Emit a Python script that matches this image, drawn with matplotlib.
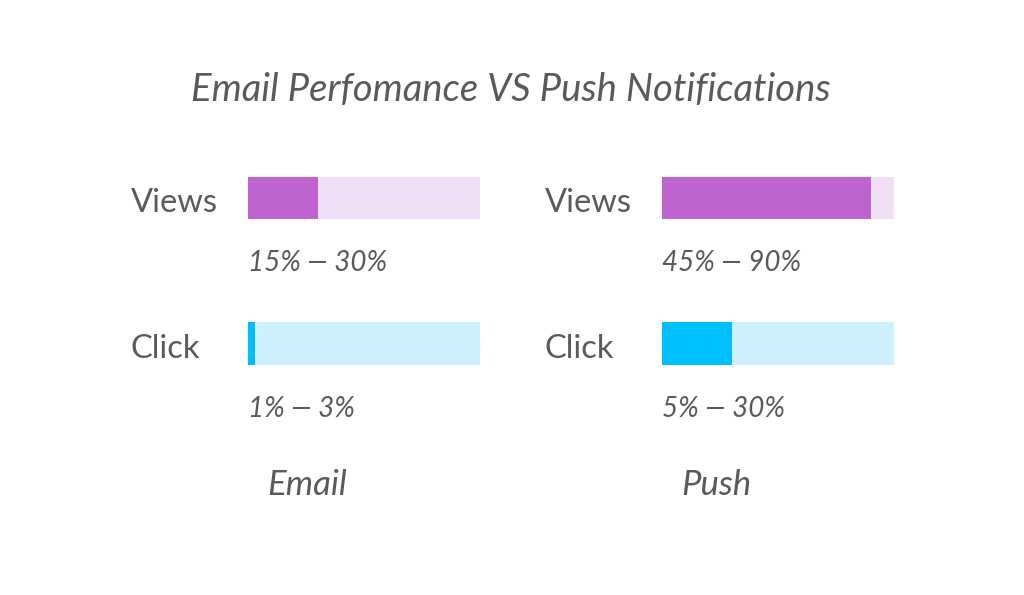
import matplotlib.pyplot as plt

plt.rcParams['font.family'] = ['Lato', 'DejaVu Sans']

panels = ["Email", "Push"]
metrics = ["Views", "Click"]
low = {"Email": [15, 1], "Push": [45, 5]}
high = {"Email": [30, 3], "Push": [90, 30]}

dark = ["#bf63d1", "#00bfff"]
light = ["#f1dff5", "#ccf0fc"]
grey = "#5a5a5a"

W, H = 1024, 595
fig = plt.figure(figsize=(W / 100, H / 100), dpi=100)

fig.text(511 / W, 1 - 90 / H, "Email Perfomance VS Push Notifications",
         ha="center", va="center", fontsize=27.5, style="italic", color=grey)

lefts = [248, 662]
bw = 232
top, bot = 140, 420
for p, x0 in zip(panels, lefts):
    ax = fig.add_axes([x0 / W, 1 - bot / H, bw / W, (bot - top) / H])
    ys = range(len(metrics))
    ax.barh(ys, [100] * len(metrics), height=0.292, color=light, left=0)
    ax.barh(ys, high[p], height=0.292, color=dark)
    ax.set_xlim(0, 100)
    ax.set_ylim(-0.3986 + (bot - top) / 145.5, -0.3986)
    ax.axis("off")
    for i, m in enumerate(metrics):
        ax.text(-117 / bw, i + 0.035, m, transform=ax.get_yaxis_transform(),
                ha="left", va="center", fontsize=23.5, color=grey)
        ax.text(0, i + 0.45, f"{low[p][i]}% — {high[p][i]}%",
                ha="left", va="center", fontsize=20, style="italic", color=grey)
    ax.text(19 / bw, 1.97, p, transform=ax.get_yaxis_transform(),
            ha="left", va="center", fontsize=25, style="italic", color=grey)

fig.savefig("out.png", dpi=100, facecolor="white")
